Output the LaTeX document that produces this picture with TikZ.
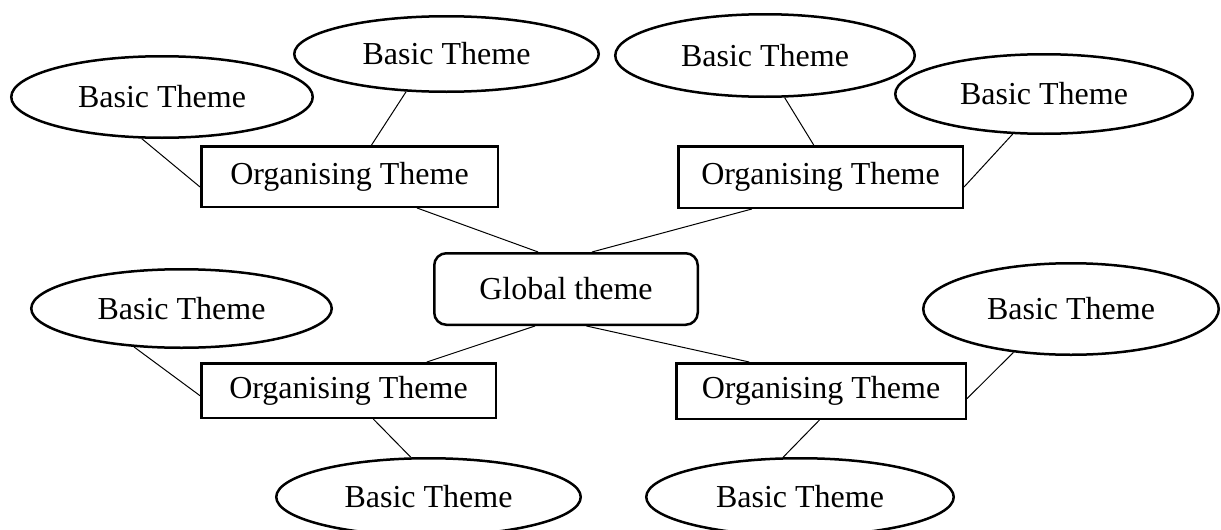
\documentclass[tikz,border=0pt]{standalone}
\usepackage{fontspec}
\setmainfont{Liberation Serif}
\usetikzlibrary{shapes.geometric}
\begin{document}
\begin{tikzpicture}[x=1pt,y=-1pt,
  txt/.style={font=\fontsize{32}{36}\selectfont, inner sep=0pt, draw, line width=2.5pt},
  basic/.style={txt, ellipse},
  org/.style={txt, rectangle},
  glob/.style={txt, rectangle, rounded corners=12pt},
  link/.style={line width=1pt}]
\useasboundingbox (0,0) rectangle (1221,530);
\clip (0,0) rectangle (1221,530);
% basic themes
\node[basic, minimum width=301.5pt, minimum height=81.5pt] (b1) at (162,97) {Basic Theme};
\node[basic, minimum width=304.5pt, minimum height=75.5pt] (b2) at (446.5,54) {Basic Theme};
\node[basic, minimum width=299.5pt, minimum height=82.5pt] (b3) at (765,55.5) {Basic Theme};
\node[basic, minimum width=297.5pt, minimum height=79.5pt] (b4) at (1044,94) {Basic Theme};
\node[basic, minimum width=300.5pt, minimum height=78.5pt] (b5) at (181.5,308.5) {Basic Theme};
\node[basic, minimum width=295.5pt, minimum height=91.5pt] (b6) at (1071,309) {Basic Theme};
\node[basic, minimum width=304.5pt, minimum height=77.5pt] (b7) at (428.5,497) {Basic Theme};
\node[basic, minimum width=307.5pt, minimum height=77.5pt] (b8) at (800,497) {Basic Theme};
% organising themes
\node[org, minimum width=296.5pt, minimum height=60.5pt] (o1) at (349.5,176.5) {Organising Theme};
\node[org, minimum width=284.5pt, minimum height=61.5pt] (o2) at (820.5,177) {Organising Theme};
\node[org, minimum width=294.5pt, minimum height=54.5pt] (o3) at (348.5,390.5) {Organising Theme};
\node[org, minimum width=289.5pt, minimum height=55.5pt] (o4) at (821,391) {Organising Theme};
% global theme
\node[glob, minimum width=263.5pt, minimum height=71.5pt] (g) at (566,289) {Global theme};
% connectors
\draw[link] (b1.244.5) -- (o1.184.4);
\draw[link] (b2.223.6) -- (o1.55);
\draw[link] (o1.335.3) -- (g.127.1);
\draw[link] (o2.205.1) -- (g.55.6);
\draw[link] (b3.295.2) -- (o2.102.4);
\draw[link] (b4.232.9) -- (o2.356);
\draw[link] (g.230) -- (o3.20.6);
\draw[link] (g.299.6) -- (o4.158.6);
\draw[link] (b5.219.3) -- (o3.182.9);
\draw[link] (o3.311.7) -- (b7.114.2);
\draw[link] (b6.217.8) -- (o4.357.3);
\draw[link] (o4.267.9) -- (b8.113);
\end{tikzpicture}
\end{document}
